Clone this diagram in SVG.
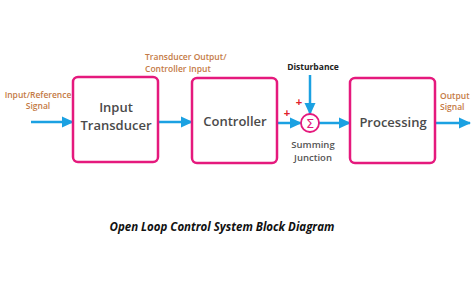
<svg xmlns="http://www.w3.org/2000/svg" width="474" height="282" viewBox="0 0 474 282">
<defs>
<marker id="ah" markerWidth="12" markerHeight="12" refX="11" refY="6" orient="auto" markerUnits="userSpaceOnUse">
<path d="M0,0.5 L12,6 L0,11.5 Z" fill="#1ba1e2"/>
</marker>
<style>
.box{fill:#fff;stroke:#e5197d;stroke-width:2.5}
.lbl{font-family:"Open Sans","Liberation Sans",sans-serif;font-size:13px;font-weight:600;fill:#4a4a4a;text-anchor:middle}
.note{font-family:"Open Sans","Liberation Sans",sans-serif;font-size:8.5px;font-weight:600;fill:#c47a45}
.blk{font-family:"Open Sans","Liberation Sans",sans-serif;font-size:8.5px;font-weight:700;fill:#222}
.sj{font-family:"Open Sans","Liberation Sans",sans-serif;font-size:9.5px;font-weight:600;fill:#555;text-anchor:middle}
.plus{font-family:"Liberation Sans",sans-serif;font-size:11px;font-weight:700;fill:#e0202a;text-anchor:middle}
.ln{stroke:#1ba1e2;stroke-width:2.5;fill:none;marker-end:url(#ah)}
</style>
</defs>
<rect width="474" height="282" fill="#fff"/>
<g id="connectors">
<line class="ln" x1="31" y1="122" x2="73" y2="122"/>
<line class="ln" x1="158" y1="122" x2="192" y2="122"/>
<line class="ln" x1="277" y1="123" x2="301" y2="123"/>
<line class="ln" x1="319" y1="123" x2="350" y2="123"/>
<line class="ln" x1="435" y1="123" x2="470" y2="123"/>
<line class="ln" x1="310" y1="75" x2="310" y2="114"/>
</g>
<g id="input-transducer">
<rect class="box" x="73" y="77" width="85" height="85" rx="5"/>
<text class="lbl" x="116" y="112">Input</text>
<text class="lbl" x="116" y="130">Transducer</text>
</g>
<g id="controller">
<rect class="box" x="192" y="78" width="85" height="85" rx="5"/>
<text class="lbl" x="235" y="126">Controller</text>
</g>
<g id="processing">
<rect class="box" x="350" y="78" width="85" height="85" rx="5"/>
<text class="lbl" x="393" y="127">Processing</text>
</g>
<g id="summing-junction">
<circle cx="310" cy="123" r="9" fill="#fff" stroke="#e5197d" stroke-width="1.8"/>
<text x="310" y="127.5" font-family="DejaVu Sans,sans-serif" font-size="13" fill="#e5197d" text-anchor="middle">Σ</text>
<text class="plus" x="299" y="106">+</text>
<text class="plus" x="287" y="117">+</text>
<text class="sj" x="313" y="148">Summing</text>
<text class="sj" x="313" y="161">Junction</text>
</g>
<g id="labels">
<text class="note" x="38" y="98" text-anchor="middle">Input/Reference</text>
<text class="note" x="38" y="109" text-anchor="middle">Signal</text>
<text class="note" x="145" y="60">Transducer Output/</text>
<text class="note" x="145" y="72">Controller Input</text>
<text class="blk" x="313" y="70" text-anchor="middle">Disturbance</text>
<text class="note" x="440" y="99">Output</text>
<text class="note" x="440" y="110">Signal</text>
</g>
<text x="222" y="231" font-family="Open Sans,Liberation Sans,sans-serif" font-size="11.5" font-weight="700" font-style="italic" fill="#111" text-anchor="middle">Open Loop Control System Block Diagram</text>
</svg>
